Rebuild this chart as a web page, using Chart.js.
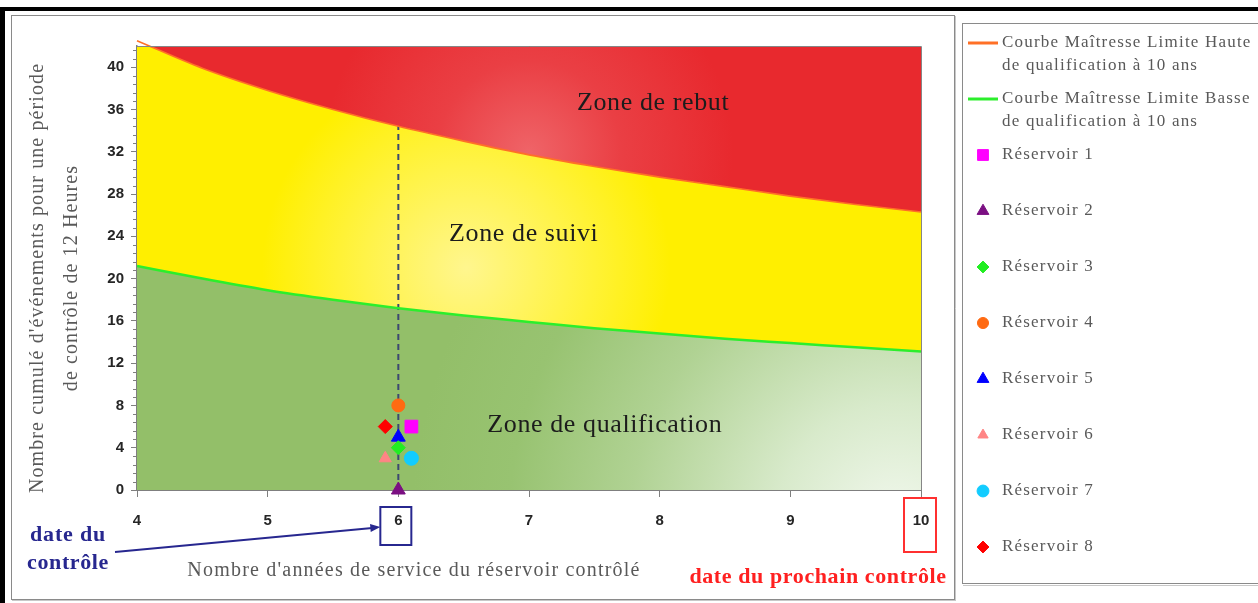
<!DOCTYPE html>
<html lang="fr">
<head>
<meta charset="utf-8">
<title>Courbes maîtresses de qualification</title>
<script src="https://cdn.jsdelivr.net/npm/chart.js@4.4.1/dist/chart.umd.min.js"></script>
<style>
    html, body { margin: 0; padding: 0; background: #fff; }
    #chart { display: block; }
</style>
</head>
<body>
<canvas id="chart" width="1258" height="603"></canvas>
<script>
// Années de service où les courbes maîtresses sont tracées
const curveYears = [4, 4.5, 5, 5.5, 6, 6.5, 7, 7.5, 8, 8.5, 9, 9.5, 10];
// Limite haute de qualification à 10 ans (événements cumulés)
const upperLimit = [42.5, 39.9, 37.8, 36.0, 34.4, 33.0, 31.7, 30.6, 29.6, 28.7, 27.8, 27.0, 26.3];
// Limite basse de qualification à 10 ans
const lowerLimit = [21.2, 20.0, 18.9, 18.0, 17.2, 16.5, 15.9, 15.3, 14.8, 14.3, 13.9, 13.5, 13.1];

// Réservoirs contrôlés
const tankNames = ['Réservoir 1', 'Réservoir 2', 'Réservoir 3', 'Réservoir 4',
                   'Réservoir 5', 'Réservoir 6', 'Réservoir 7', 'Réservoir 8'];
const tankYears = [6.1, 6, 6, 6, 6, 5.9, 6.1, 5.9];
const tankEvents = [6, 0, 4, 8, 5, 3, 3, 6];

const curveNames = ['Courbe Maîtresse Limite Haute de qualification à 10 ans',
                    'Courbe Maîtresse Limite Basse de qualification à 10 ans'];
const zoneNames = ['Zone de rebut', 'Zone de suivi', 'Zone de qualification'];

const yTicks = [0, 4, 8, 12, 16, 20, 24, 28, 32, 36, 40];
const xTicks = [4, 5, 6, 7, 8, 9, 10];
const controlYear = 6;
const nextControlYear = 10;

// Marker styles for each tank
const tankColors = ['#ff00ff', '#7b0f82', '#22ee22', '#ff6a12', '#0000ff', '#ff8585', '#12ccff', '#ff0000'];
const tankShapes = ['rect', 'triangle', 'rectRot', 'circle', 'triangle', 'triangle', 'circle', 'rectRot'];
const tankRadius = [9, 8, 7, 6.5, 8, 7, 7, 7];

const SERIF = '"Liberation Serif", "DejaVu Serif", serif';
const SANS = '"Liberation Sans", Arial, sans-serif';

const xy = (xs, ys) => xs.map((x, i) => ({ x, y: ys[i] }));

// Gradient fills depend on the chart area, so they are built lazily
function areaGradient(chart, fx, fy, fr, stops, fallback) {
    const { ctx, chartArea } = chart;
    if (!chartArea) return fallback;
    const w = chartArea.right - chartArea.left;
    const h = chartArea.bottom - chartArea.top;
    const cx = chartArea.left + fx * w;
    const cy = chartArea.top + fy * h;
    const g = ctx.createRadialGradient(cx, cy, 0, cx, cy, fr * w);
    stops.forEach(([p, c]) => g.addColorStop(p, c));
    return g;
}

const redZone = c => areaGradient(c.chart, 0.50, 0.24, 0.26,
    [[0, '#ef6468'], [0.45, '#ea3f44'], [1, '#e8292e']], '#e8292e');
const yellowZone = c => areaGradient(c.chart, 0.42, 0.50, 0.26,
    [[0, '#fff68e'], [0.5, '#fff348'], [1, '#ffef00']], '#ffef00');
const greenZone = c => areaGradient(c.chart, 0.97, 1.08, 0.62,
    [[0, '#f2f8ee'], [0.25, '#d8eacb'], [0.55, '#b0d293'], [0.8, '#98c371'], [1, '#93bf69']], '#93bf69');

const datasets = [
    {
        type: 'line',
        label: curveNames[0],
        data: xy(curveYears, upperLimit),
        borderColor: '#ff7026',
        borderWidth: 1.6,
        backgroundColor: redZone,
        fill: 'end',
        cubicInterpolationMode: 'monotone',
        pointRadius: 0,
        clip: false
    },
    {
        type: 'line',
        label: curveNames[1],
        data: xy(curveYears, lowerLimit),
        borderColor: '#2cee2c',
        borderWidth: 2.5,
        backgroundColor: yellowZone,
        fill: '-1',
        cubicInterpolationMode: 'monotone',
        pointRadius: 0
    },
    {
        // green area under the lower limit
        type: 'line',
        data: xy(curveYears, lowerLimit),
        borderWidth: 0,
        borderColor: 'rgba(0,0,0,0)',
        backgroundColor: greenZone,
        fill: 'origin',
        cubicInterpolationMode: 'monotone',
        pointRadius: 0
    },
    {
        // vertical line at the control date
        type: 'line',
        data: [{ x: controlYear, y: 0 }, { x: controlYear, y: upperLimit[curveYears.indexOf(controlYear)] }],
        borderColor: '#3c4872',
        borderWidth: 2,
        borderDash: [6, 4],
        pointRadius: 0,
        fill: false
    }
];

tankNames.forEach((name, i) => {
    datasets.push({
        type: 'scatter',
        label: name,
        data: [{ x: tankYears[i], y: tankEvents[i] }],
        showLine: false,
        pointStyle: tankShapes[i],
        pointRadius: tankRadius[i],
        pointBackgroundColor: tankColors[i],
        pointBorderColor: tankColors[i],
        pointBorderWidth: 1,
        order: -1,
        clip: false
    });
});

function drawText(ctx, text, x, y, font, color, align, spacing) {
    ctx.save();
    ctx.font = font;
    ctx.fillStyle = color;
    ctx.textAlign = align || 'center';
    ctx.textBaseline = 'middle';
    if ('letterSpacing' in ctx) ctx.letterSpacing = (spacing || 0) + 'px';
    ctx.fillText(text, x, y);
    ctx.restore();
}

function wrapWords(ctx, text, maxWidth) {
    const lines = [];
    let line = '';
    text.split(' ').forEach(word => {
        const test = line ? line + ' ' + word : word;
        if (line && ctx.measureText(test).width > maxWidth) {
            lines.push(line);
            line = word;
        } else {
            line = test;
        }
    });
    if (line) lines.push(line);
    return lines;
}

// White page, outer borders and the two framed panels
const framePlugin = {
    id: 'frames',
    beforeDraw(chart) {
        const ctx = chart.ctx;
        ctx.save();
        ctx.fillStyle = '#fff';
        ctx.fillRect(0, 0, chart.width, chart.height);
        ctx.fillStyle = '#000';
        ctx.fillRect(0, 7, chart.width, 4);
        ctx.fillRect(0, 7, 5, chart.height - 7);

        ctx.lineWidth = 1;
        ctx.strokeStyle = '#8a8a8a';
        ctx.strokeRect(11.5, 15.5, 943, 584);
        ctx.strokeStyle = '#c8c8c8';
        ctx.beginPath();
        ctx.moveTo(955.5, 16); ctx.lineTo(955.5, 601);
        ctx.moveTo(12, 600.5); ctx.lineTo(956, 600.5);
        ctx.stroke();

        ctx.strokeStyle = '#8a8a8a';
        ctx.strokeRect(962.5, 23.5, 310, 560);
        ctx.strokeStyle = '#c8c8c8';
        ctx.beginPath();
        ctx.moveTo(963, 585.5); ctx.lineTo(chart.width, 585.5);
        ctx.stroke();
        ctx.restore();
    }
};

const annotationPlugin = {
    id: 'annotations',
    afterDatasetsDraw(chart) {
        const { ctx, chartArea, scales: { x, y } } = chart;

        // plot border (top and right)
        ctx.save();
        ctx.strokeStyle = '#868686';
        ctx.lineWidth = 1;
        ctx.beginPath();
        ctx.moveTo(chartArea.left, chartArea.top + 0.5);
        ctx.lineTo(chartArea.right + 0.5, chartArea.top + 0.5);
        ctx.lineTo(chartArea.right + 0.5, chartArea.bottom);
        ctx.stroke();

        // minor ticks on the vertical axis
        ctx.strokeStyle = '#7f7f7f';
        ctx.beginPath();
        for (let v = 0.8; v < y.max; v += 0.8) {
            if (Math.abs(v / 4 - Math.round(v / 4)) < 0.01) continue;
            const py = Math.round(y.getPixelForValue(v)) + 0.5;
            ctx.moveTo(chartArea.left - 4, py);
            ctx.lineTo(chartArea.left, py);
        }
        ctx.stroke();
        ctx.restore();

        // zone names
        const zoneFont = '26px ' + SERIF;
        drawText(ctx, zoneNames[0], x.getPixelForValue(7.95), y.getPixelForValue(36.6), zoneFont, '#1c1c1c', 'center', 0.6);
        drawText(ctx, zoneNames[1], x.getPixelForValue(6.96), y.getPixelForValue(24.2), zoneFont, '#1c1c1c', 'center', 0.6);
        drawText(ctx, zoneNames[2], x.getPixelForValue(7.58), y.getPixelForValue(6.15), zoneFont, '#1c1c1c', 'center', 0.6);
    },
    afterDraw(chart) {
        const { ctx, chartArea, scales: { x, y } } = chart;
        const axisFont = '20px ' + SERIF;

        // axis titles
        ctx.save();
        ctx.translate(38, (chartArea.top + chartArea.bottom) / 2 + 10);
        ctx.rotate(-Math.PI / 2);
        drawText(ctx, "Nombre cumulé d'événements pour une période", 0, 0, axisFont, '#595959', 'center', 1.1);
        drawText(ctx, 'de contrôle de 12 Heures', 0, 34, axisFont, '#595959', 'center', 1.1);
        ctx.restore();
        drawText(ctx, "Nombre d'années de service du réservoir contrôlé", 414, 571, axisFont, '#595959', 'center', 1.2);

        // control date: box on the tick label and arrow from its caption
        const px6 = x.getPixelForValue(controlYear);
        const navy = '#27278f';
        ctx.save();
        ctx.lineWidth = 2;
        ctx.strokeStyle = navy;
        ctx.strokeRect(px6 - 18, 507, 31, 38);
        ctx.beginPath();
        ctx.moveTo(115, 552);
        ctx.lineTo(px6 - 26, 528);
        ctx.stroke();
        const ang = Math.atan2(528 - 552, px6 - 18 - 115);
        ctx.fillStyle = navy;
        ctx.beginPath();
        ctx.moveTo(px6 - 18, 527);
        ctx.lineTo(px6 - 18 - 10 * Math.cos(ang) + 4 * Math.sin(ang), 527 - 10 * Math.sin(ang) - 4 * Math.cos(ang));
        ctx.lineTo(px6 - 18 - 10 * Math.cos(ang) - 4 * Math.sin(ang), 527 - 10 * Math.sin(ang) + 4 * Math.cos(ang));
        ctx.closePath();
        ctx.fill();

        // next control date
        const px10 = x.getPixelForValue(nextControlYear);
        ctx.strokeStyle = '#ff3030';
        ctx.strokeRect(px10 - 17, 498, 32, 54);
        ctx.restore();

        const boldFont = 'bold 22px ' + SERIF;
        drawText(ctx, 'date du', 68, 535, boldFont, navy, 'center', 0.8);
        drawText(ctx, 'contrôle', 68, 563, boldFont, navy, 'center', 0.6);
        drawText(ctx, 'date du prochain contrôle', 818, 577, boldFont, '#ff2020', 'center', 0.6);

        // legend
        const legendFont = '17px ' + SERIF;
        let row = 0;
        chart.data.datasets.forEach(ds => {
            if (!ds.label) return;
            const cy = 43 + 56 * row;
            ctx.save();
            if (ds.pointStyle) {
                ctx.fillStyle = ds.pointBackgroundColor;
                ctx.strokeStyle = ds.pointBorderColor;
                ctx.lineWidth = 1;
                Chart.helpers.drawPoint(ctx, {
                    pointStyle: ds.pointStyle,
                    radius: ds.pointRadius * 0.85,
                    rotation: 0,
                    borderWidth: 1
                }, 983, cy);
            } else {
                ctx.strokeStyle = ds.borderColor;
                ctx.lineWidth = 3;
                ctx.beginPath();
                ctx.moveTo(968, cy);
                ctx.lineTo(998, cy);
                ctx.stroke();
            }
            ctx.font = legendFont;
            if ('letterSpacing' in ctx) ctx.letterSpacing = '1.2px';
            const lines = wrapWords(ctx, ds.label, 256);
            ctx.restore();
            lines.forEach((line, k) => {
                drawText(ctx, line, 1002, cy + 23 * k, legendFont, '#595959', 'left', 1.2);
            });
            row++;
        });
    }
};

new Chart(document.getElementById('chart'), {
    type: 'line',
    data: { datasets },
    options: {
        responsive: false,
        animation: false,
        events: [],
        layout: {
            padding: { left: 0, top: 46, right: 337, bottom: 0 }
        },
        plugins: {
            legend: { display: false },
            tooltip: { enabled: false },
            filler: { drawTime: 'beforeDatasetsDraw' }
        },
        scales: {
            x: {
                type: 'linear',
                min: xTicks[0],
                max: xTicks[xTicks.length - 1],
                afterFit: scale => { scale.height = 113; },
                afterBuildTicks: scale => { scale.ticks = xTicks.map(v => ({ value: v })); },
                ticks: {
                    padding: 15,
                    color: '#262626',
                    font: { family: SANS, size: 15, weight: 'bold' }
                },
                grid: {
                    drawOnChartArea: false,
                    tickLength: 7,
                    tickColor: '#7f7f7f'
                },
                border: { color: '#7f7f7f', width: 2 }
            },
            y: {
                type: 'linear',
                min: 0,
                max: 42,
                afterFit: scale => { scale.width = 137; },
                afterBuildTicks: scale => { scale.ticks = yTicks.map(v => ({ value: v })); },
                ticks: {
                    padding: 7,
                    color: '#262626',
                    font: { family: SANS, size: 15, weight: 'bold' }
                },
                grid: {
                    drawOnChartArea: false,
                    tickLength: 6,
                    tickColor: '#7f7f7f'
                },
                border: { color: '#7f7f7f', width: 1.5 }
            }
        }
    },
    plugins: [framePlugin, annotationPlugin]
});
</script>
</body>
</html>
